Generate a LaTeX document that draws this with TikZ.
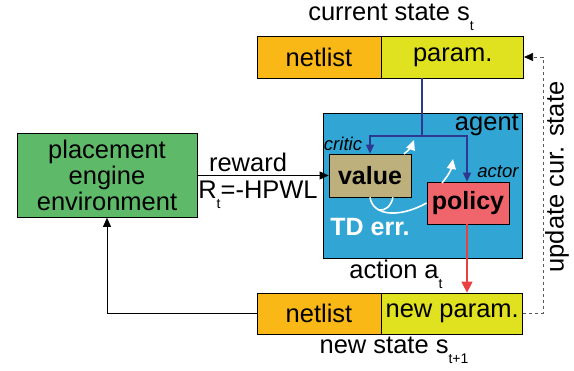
\documentclass[tikz,border=0pt]{standalone}
\usepackage{fontspec}
\setmainfont{Liberation Sans}
\usetikzlibrary{positioning,arrows.meta}

\definecolor{envgreen}{RGB}{94,186,104}
\definecolor{agentblue}{RGB}{49,165,211}
\definecolor{valuetan}{RGB}{190,176,125}
\definecolor{policyred}{RGB}{240,100,108}
\definecolor{netorange}{RGB}{250,184,22}
\definecolor{paramyellow}{RGB}{224,226,32}
\definecolor{linknavy}{RGB}{46,56,145}
\definecolor{actred}{RGB}{235,64,64}

\newcommand{\lowsub}[1]{\raisebox{-0.4em}{\fontsize{14}{14}\selectfont #1}}

\begin{document}
\begin{tikzpicture}[
		x=1pt, y=-1pt,
		every node/.style={inner sep=0pt, font=\fontsize{25.5}{26}\selectfont},
		box/.style={draw, line width=0.7pt},
		env/.style={box, fill=envgreen, minimum width=180pt, minimum height=84pt, align=center},
		agentbox/.style={box, fill=agentblue, minimum width=199pt, minimum height=145pt},
		critic/.style={box, fill=valuetan, minimum width=82pt, minimum height=43pt, font=\fontsize{25}{26}\selectfont\bfseries},
		actor/.style={box, fill=policyred, minimum width=82pt, minimum height=42pt, font=\fontsize{25}{26}\selectfont\bfseries},
		netcell/.style={box, fill=netorange, minimum width=124pt, minimum height=42pt},
		paramcell/.style={box, fill=paramyellow, minimum width=142pt, minimum height=42pt},
		role/.style={font=\fontsize{18.5}{19}\selectfont\itshape},
		link/.style={line width=0.7pt, -{Triangle[length=9pt,width=8pt]}},
		tdline/.style={white, line width=1.6pt},
		tdarrow/.style={white, line width=1.6pt, -{Triangle[length=10pt,width=9pt]}},
		]
		\useasboundingbox (0,0) rectangle (574,371);

		% environment and agent
		\node [env] (env) at (107,175.5) {placement\\engine\\environment};
		\node [agentbox] (agent) at (422.5,185.5) {};
		\node [anchor=east] (agentlbl) at (519,125) {agent};
		\node [critic] (value) at (370,175.5) {value};
		\node [actor] (policy) at (468,203) {policy};
		\node [role] (criticlbl) at (343,144) {critic};
		\node [role] (actorlbl) at (498,172) {actor};
		\node [white, font=\fontsize{25}{26}\selectfont\bfseries] (tderr) at (370,227) {TD err.};

		% states
		\node [netcell] (curnet) at (319,57) {netlist};
		\node [paramcell, right=0pt of curnet] (curpar) {param.};
		\node (curlbl) at (391,17) {current state s\lowsub{t}};
		\node [netcell, minimum height=41pt] (newnet) at (319,313.5) {netlist};
		\node [paramcell, minimum width=141pt, minimum height=41pt, right=0pt of newnet] (newpar) {new param.};
		\node (newlbl) at (394,350) {new state s\lowsub{t+1}};

		% labels
		\node (rewardlbl) at (248,162) {reward};
		\node (hpwl) at (258,195) {R\lowsub{t}=-HPWL};
		\node (actionlbl) at (396,274) {action a\lowsub{t}};
		\node [rotate=90] (updlbl) at (557,177) {update cur. state};

		% connectors
		\coordinate (split) at (422,136);
		\coordinate (upd) at (543,0);
		\draw [link] (env.east) -- (value.west);
		\draw [linknavy, line width=1.2pt] (split |- curpar.south) -- (split);
		\draw [link, linknavy, line width=1.2pt] (split) -| (value.north);
		\draw [link, linknavy, line width=1.2pt] (split) -| ([xshift=-1pt]policy.north);
		\draw [actred, line width=1.2pt, -{Triangle[length=11pt,width=11pt]}] ([xshift=-1pt]policy.south) -- ([xshift=-1pt]policy.south |- newpar.north);
		\draw [link] (newnet.west) -| (env.south);
		\draw [line width=0.7pt, dashed, gray!70!black, -{Triangle[length=9pt,width=8pt,fill=black,color=black]}] (newpar.east) -- (newpar.east -| upd) -- (curpar.east -| upd) -- (curpar.east);

		% TD error
		\draw [tdline] (value.south) .. controls +(3,19) and +(-27,15) .. (policy.west);
		\draw [tdline] ([xshift=23pt]value.south) .. controls +(-2,9) and +(6,1) .. (379,210);
		\draw [tdarrow] (404,154) to [bend right=15] (414,140);
		\draw [tdarrow] (442,183) to [bend right=15] (453,159);
	\end{tikzpicture}
\end{document}
